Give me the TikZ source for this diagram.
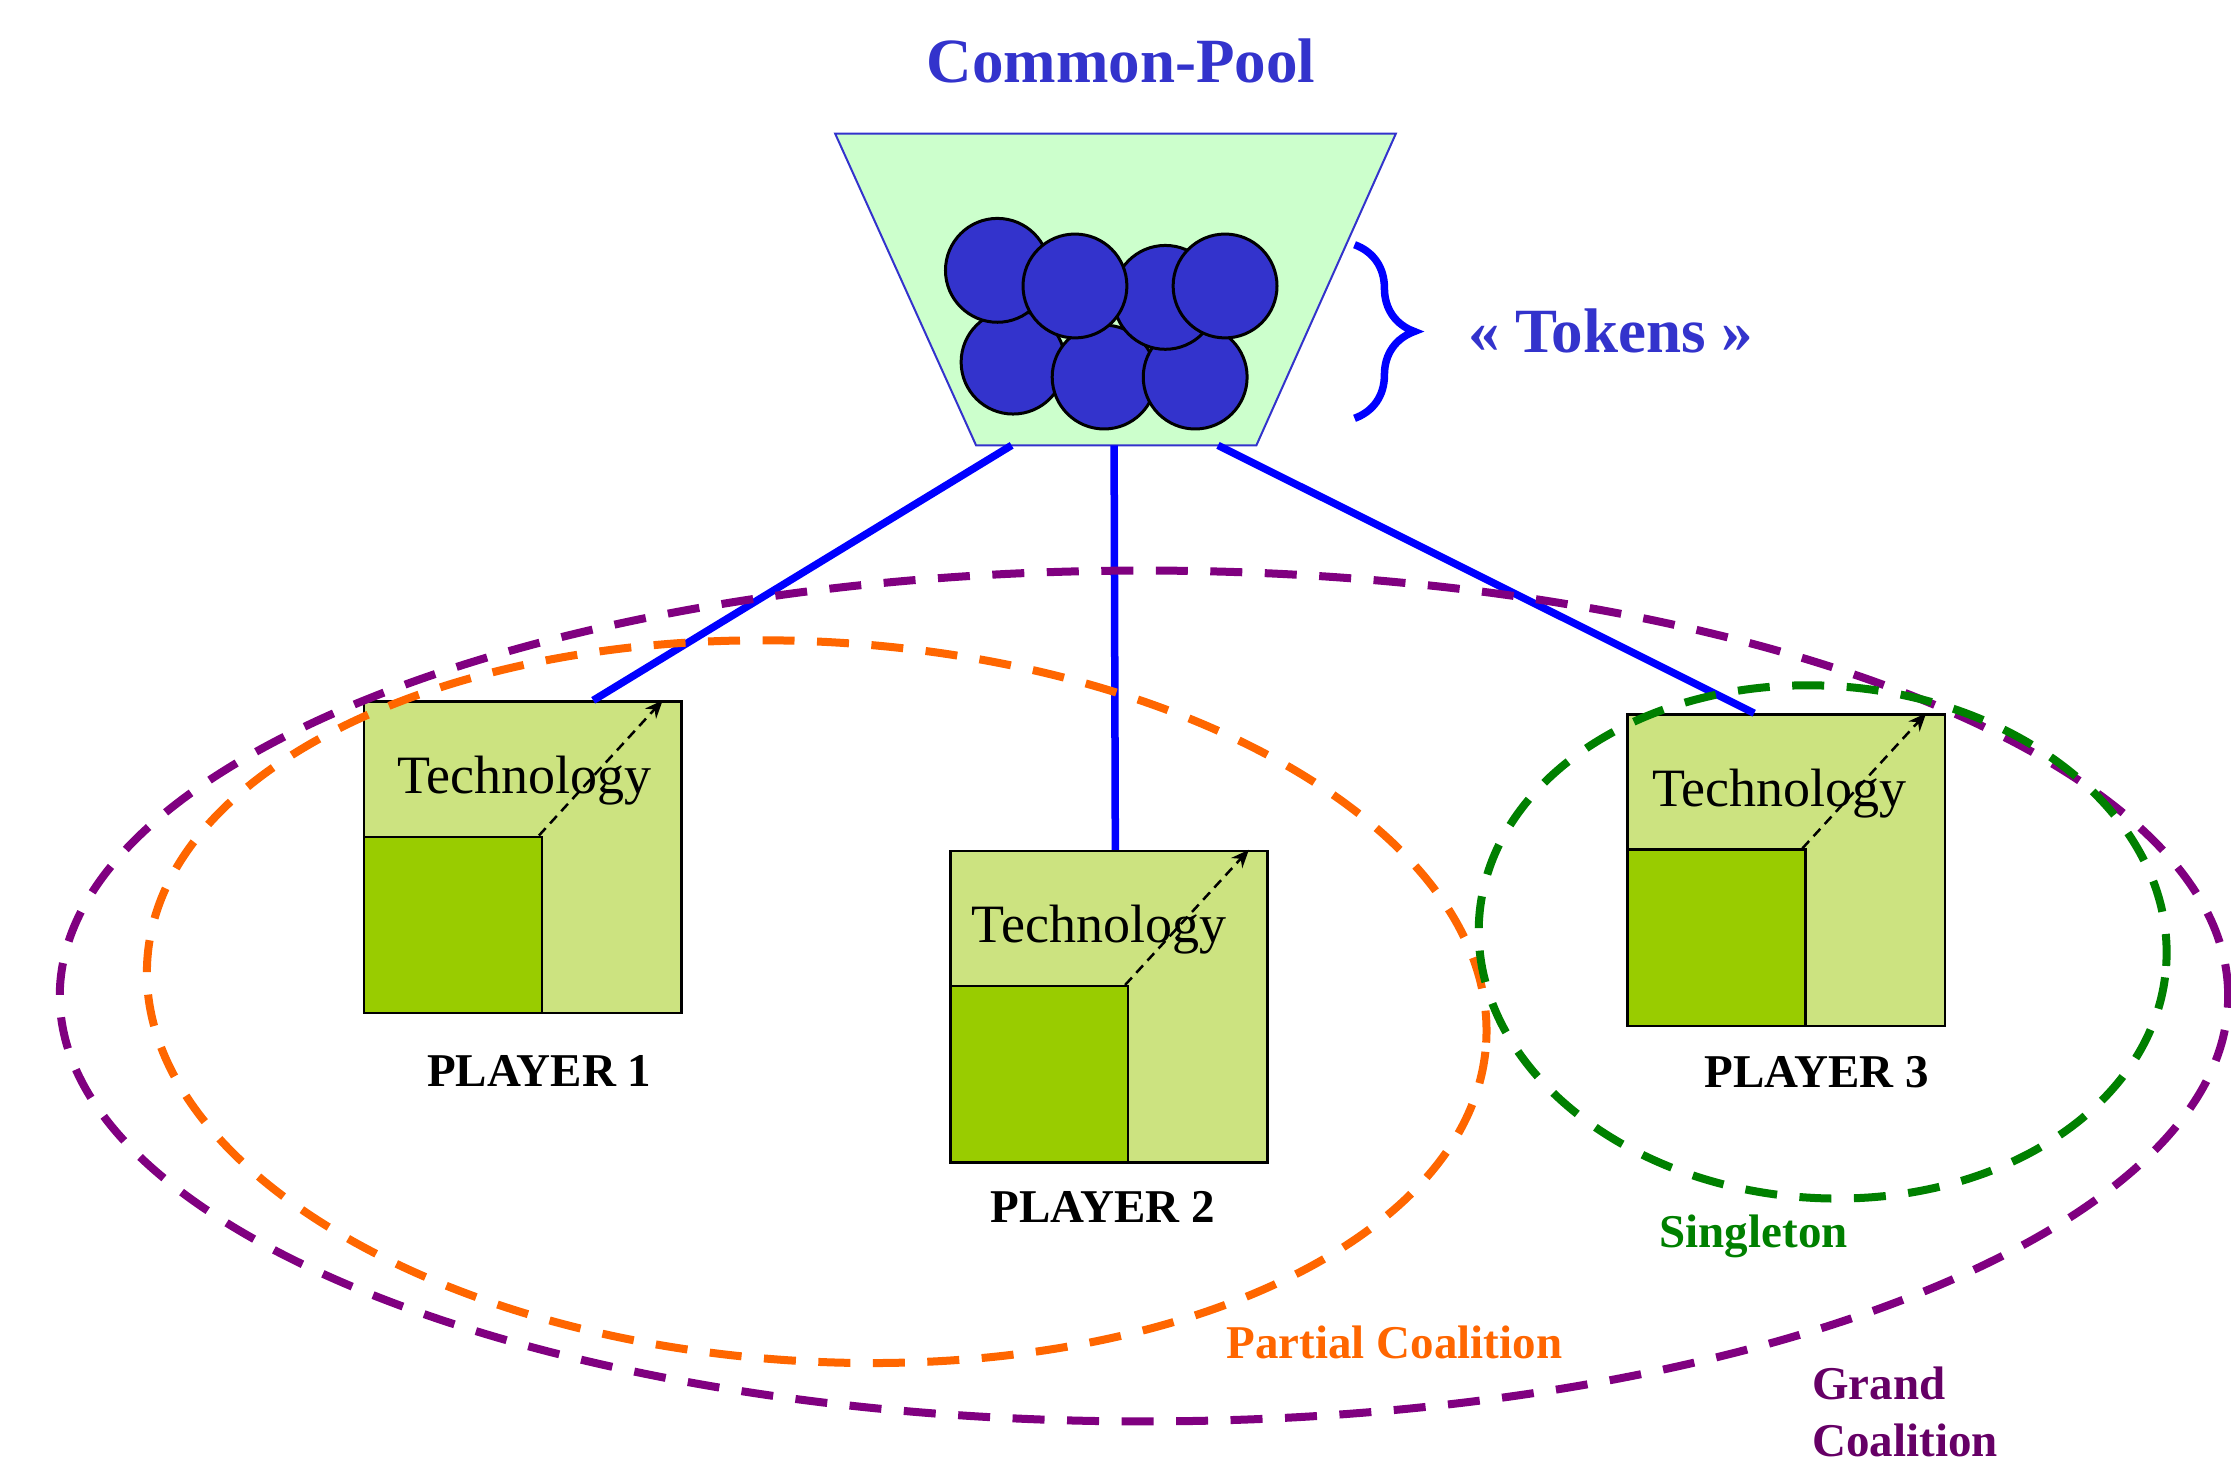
\documentclass[tikz,border=0pt]{standalone}
\usepackage{fontspec}
\setmainfont{Liberation Serif}
\usepackage{tikz}
\usetikzlibrary{arrows.meta, positioning, calc, decorations.pathreplacing}
\definecolor{poolblue}{RGB}{51,51,204}
\definecolor{linkblue}{RGB}{0,0,255}
\definecolor{poolgreen}{RGB}{204,255,204}
\definecolor{techlight}{RGB}{204,227,128}
\definecolor{techdark}{RGB}{153,204,0}
\definecolor{grandpurple}{RGB}{128,0,128}
\definecolor{grandtext}{RGB}{102,0,102}
\definecolor{partialorange}{RGB}{255,102,0}
\definecolor{singlegreen}{RGB}{0,128,0}

\begin{document}
\begin{tikzpicture}[
  techbox/.style={draw=black, line width=0.5pt, fill=techlight, minimum width=2.23cm, minimum height=2.19cm, inner sep=0pt, anchor=south west},
  corebox/.style={draw=black, line width=0.5pt, fill=techdark, minimum width=1.25cm, minimum height=1.24cm, inner sep=0pt, anchor=south west},
  techlabel/.style={anchor=base, inner sep=0pt, font=\fontsize{10.8}{12}\selectfont},
  playerlabel/.style={anchor=base, inner sep=0pt, font=\fontsize{9.4}{11}\selectfont\bfseries},
  growth/.style={-{Stealth[length=3.6pt,width=3pt]}, dash pattern=on 2pt off 1.3pt, line width=0.5pt},
  link/.style={linkblue, line width=1.5pt},
  token/.style={fill=poolblue, draw=black, line width=0.6pt},
  coalition/.style={line width=1.6pt, dash pattern=on 6.4pt off 4.5pt},
  setlabel/.style={inner sep=0pt, font=\fontsize{9.4}{11.4}\selectfont\bfseries},
  poollabel/.style={anchor=base, inner sep=0pt, text=poolblue, font=\fontsize{12.6}{15}\selectfont\bfseries}
]
  \useasboundingbox (0,0) rectangle (15.68,10.30);

  % the pool and its tokens
  \draw[poolblue, line width=0.4pt, fill=poolgreen] (5.87,9.36) -- (9.81,9.36) -- (8.83,7.17) -- (6.86,7.17) -- cycle;
  \coordinate (pool) at (7.845,7.17);
  \foreach \x/\y in {7.12/7.755, 7.76/7.65, 8.40/7.65, 8.19/8.21, 7.01/8.40, 7.555/8.29, 8.61/8.29}
    \draw[token] (\x,\y) circle (0.365);
  \draw[linkblue, line width=1.5pt, decorate, decoration={brace, amplitude=0.42cm}] (9.52,8.58) -- (9.52,7.36);
  \node[poollabel] (title) at (7.88,9.72) {Common-Pool};
  \node[poollabel] (tokens) at (11.32,7.824) {« Tokens »};

  % players
  \foreach \i/\x/\y/\tx/\lx/\ly in {1/2.55/3.17/0.01/3.79/2.662, 2/6.67/2.12/-0.07/7.75/1.71, 3/11.43/3.08/-0.05/12.77/2.66} {
    \node[techbox] (p\i) at (\x,\y) {};
    \node[corebox] (c\i) at (p\i.south west) {};
    \draw[growth] ($(c\i.north east)+(-0.03,0)$) -- ($(p\i.north east)+(-0.14,0)$);
    \node[techlabel] (t\i) at ($(p\i.north)+(\tx,-0.655)$) {Technology};
    \node[playerlabel] (n\i) at (\lx,\ly) {PLAYER \i};
  }
  \draw[link] ($(pool)+(-0.735,0)$) -- ($(p1.north)+(0.495,0)$);
  \draw[link] ($(pool)+(-0.015,0)$) -- ($(p2.north)+(0.045,0)$);
  \draw[link] ($(pool)+(0.715,0)$) -- ($(p3.north)+(-0.225,0)$);

  % coalitions
  \draw[coalition, grandpurple] (8.04,3.30) ellipse [x radius=7.62, y radius=2.99];
  \draw[coalition, partialorange, rotate around={-3.5:(5.74,3.26)}] (5.74,3.26) ellipse [x radius=4.714, y radius=2.528];
  \draw[coalition, singlegreen, rotate around={-4:(12.81,3.68)}] (12.81,3.68) ellipse [x radius=2.42, y radius=1.80];
  \node[setlabel, text=singlegreen, anchor=base] (single) at (12.325,1.534) {Singleton};
  \node[setlabel, text=partialorange, anchor=base] (partial) at (9.80,0.755) {Partial Coalition};
  \node[setlabel, text=grandtext, anchor=north west, align=left] (grand) at (12.73,0.70) {Grand\\Coalition};
\end{tikzpicture}
\end{document}
